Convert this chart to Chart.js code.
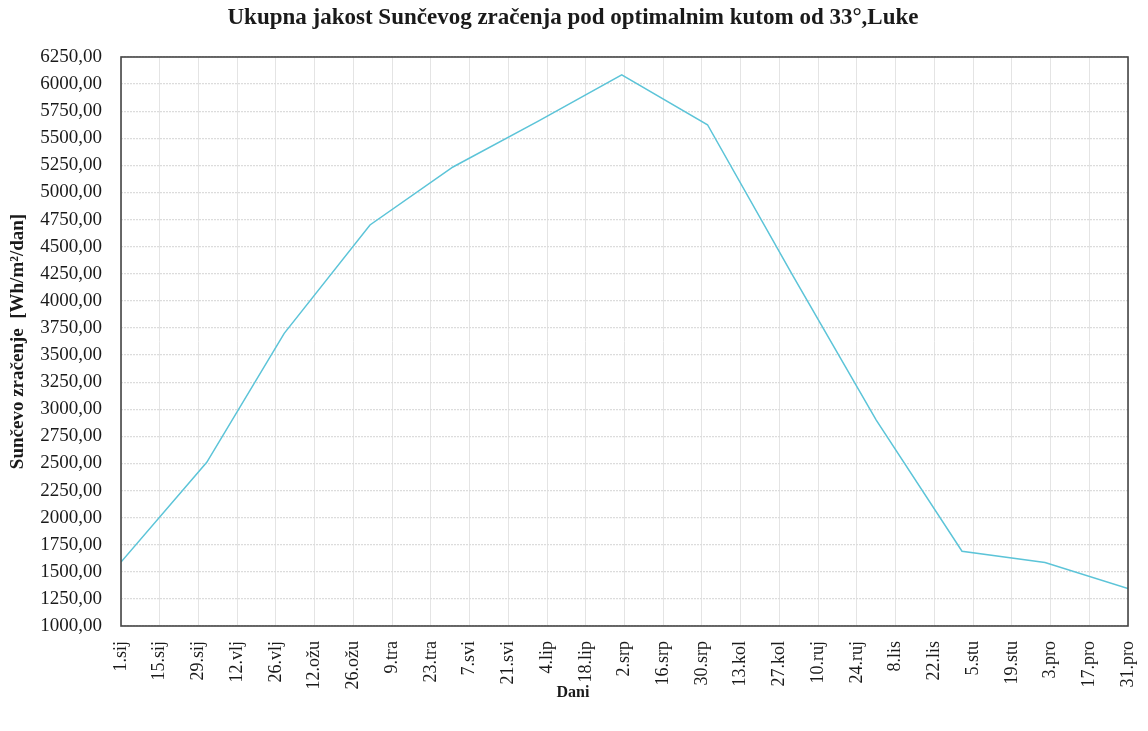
<!DOCTYPE html>
<html lang="hr">
<head>
<meta charset="utf-8">
<title>Ukupna jakost Sunčevog zračenja</title>
<script src="https://cdn.jsdelivr.net/npm/chart.js@4/dist/chart.umd.min.js"></script>
<style>
  html, body { margin: 0; padding: 0; background: #ffffff; }
  #wrap { width: 1148px; height: 731px; }
</style>
</head>
<body>
<div id="wrap"><canvas id="chart" width="1148" height="731"></canvas></div>
<script>
// Day of year (0 = 1. siječnja) at which each value applies
const dayOfYear = [0, 31, 59, 90, 120, 151, 181, 212, 243, 273, 304, 334, 364];

// Total solar irradiation on a surface tilted at 33°, Wh/m²/dan
const irradiation = [1590, 2510, 3700, 4700, 5235, 5660, 6085, 5625, 4225, 2900, 1690, 1585, 1345];

// Labels on the day axis, one every 14 days
const dayTickLabels = [
  '1.sij', '15.sij', '29.sij', '12.vlj', '26.vlj', '12.ožu', '26.ožu', '9.tra', '23.tra',
  '7.svi', '21.svi', '4.lip', '18.lip', '2.srp', '16.srp', '30.srp', '13.kol', '27.kol',
  '10.ruj', '24.ruj', '8.lis', '22.lis', '5.stu', '19.stu', '3.pro', '17.pro', '31.pro'
];
const dayTickStep = 14;

const serif = "'Liberation Serif', 'Times New Roman', serif";
const textColor = '#1a1a1a';

// Frame around the plotting area
const plotFrame = {
  id: 'plotFrame',
  afterDraw(chart) {
    const { ctx, chartArea: a } = chart;
    ctx.save();
    ctx.strokeStyle = '#454545';
    ctx.lineWidth = 1.6;
    ctx.strokeRect(a.left, a.top, a.right - a.left, a.bottom - a.top);
    ctx.restore();
  }
};

new Chart(document.getElementById('chart'), {
  type: 'line',
  data: {
    datasets: [{
      label: 'Sunčevo zračenje',
      data: dayOfYear.map((d, i) => ({ x: d, y: irradiation[i] })),
      borderColor: '#5cc4d8',
      borderWidth: 1.5,
      pointRadius: 0,
      tension: 0,
      fill: false
    }]
  },
  options: {
    responsive: false,
    devicePixelRatio: 1,
    animation: false,
    layout: { padding: { left: 18, right: 20, top: 0, bottom: 0 } },
    plugins: {
      legend: { display: false },
      tooltip: { enabled: false },
      title: {
        display: true,
        text: 'Ukupna jakost Sunčevog zračenja pod optimalnim kutom od 33°,Luke',
        color: textColor,
        font: { family: serif, size: 23, weight: 'bold' },
        padding: { top: 4, bottom: 25.4 }
      },
      subtitle: {
        display: true,
        position: 'bottom',
        text: 'Dani',
        color: textColor,
        font: { family: serif, size: 16, weight: 'bold' },
        padding: { top: -18, bottom: 28.8 }
      }
    },
    scales: {
      x: {
        type: 'linear',
        min: 0,
        max: 364,
        afterFit(scale) {
          scale.height = 75;
          scale.paddingLeft = 0;
          scale.paddingRight = 0;
        },
        ticks: {
          stepSize: dayTickStep,
          autoSkip: false,
          minRotation: 90,
          maxRotation: 90,
          padding: 15,
          color: textColor,
          font: { family: serif, size: 18 },
          callback: (value) => dayTickLabels[Math.round(value / dayTickStep)]
        },
        grid: { color: '#e4e4e4', lineWidth: 1, drawTicks: false },
        border: { display: false }
      },
      y: {
        type: 'linear',
        min: 1000,
        max: 6250,
        afterFit(scale) { scale.width = 103; },
        ticks: {
          stepSize: 250,
          padding: 19,
          color: textColor,
          font: { family: serif, size: 19 },
          callback: (value) => value.toFixed(2).replace('.', ',')
        },
        grid: { color: '#dcdcdc', lineWidth: 1.2, drawTicks: false },
        border: { display: false, dash: [2, 1] },
        title: {
          display: true,
          text: 'Sunčevo zračenje  [Wh/m²/dan]',
          color: textColor,
          font: { family: serif, size: 19, weight: 'bold' },
          padding: { top: -11, bottom: 0 }
        }
      }
    }
  },
  plugins: [plotFrame]
});
</script>
</body>
</html>
